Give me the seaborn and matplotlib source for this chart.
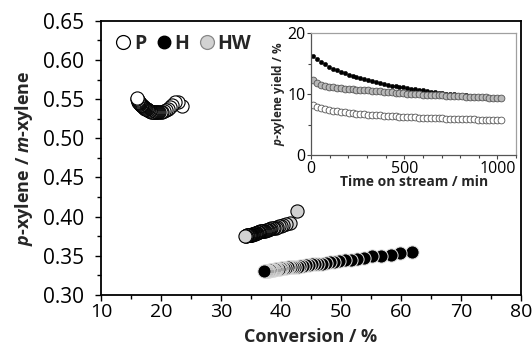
import matplotlib
matplotlib.use("Agg")
import matplotlib.pyplot as plt
from matplotlib.lines import Line2D
from matplotlib.ticker import MultipleLocator, FormatStrFormatter
import pandas as pd
import seaborn as sns

# ---- series: main panel (conversion vs p/m ratio) ----
conv_P = [23.5, 22.9, 22.4, 21.9, 21.5, 21.1, 20.8, 20.5, 20.2, 19.95,
          19.7, 19.5, 19.3, 19.1, 18.95, 18.8, 18.65, 18.5, 18.35, 18.2,
          18.1, 18.0, 17.9, 17.8, 17.7, 17.6, 17.5, 17.4, 17.3, 17.2,
          17.12, 17.04, 16.96, 16.88, 16.8, 16.73, 16.66, 16.6, 16.54, 16.48,
          16.42, 16.36, 16.3, 16.25, 16.2, 16.15, 16.1, 16.05, 16.0]
ratio_P = [0.541, 0.547, 0.546, 0.543, 0.540, 0.538, 0.536, 0.535, 0.534, 0.533,
           0.533, 0.533, 0.533, 0.533, 0.533, 0.533, 0.534, 0.534, 0.534, 0.535,
           0.535, 0.535, 0.536, 0.536, 0.537, 0.537, 0.538, 0.538, 0.539, 0.539,
           0.540, 0.540, 0.541, 0.541, 0.542, 0.542, 0.543, 0.543, 0.544, 0.544,
           0.545, 0.545, 0.546, 0.547, 0.547, 0.548, 0.549, 0.550, 0.551]

conv_H = [61.8, 59.9, 58.3, 56.7, 55.2, 53.9, 52.7, 51.6, 50.6, 49.7,
          48.9, 48.2, 47.5, 46.8, 46.2, 45.6, 45.1, 44.6, 44.1, 43.6,
          43.2, 42.8, 42.4, 42.0, 41.7, 41.4, 41.1, 40.8, 40.5, 40.25,
          40.0, 39.8, 39.6, 39.4, 39.2, 39.0, 38.85, 38.7, 38.55, 38.4,
          38.25, 38.1, 37.95, 37.8, 37.7, 37.6, 37.5, 37.35, 37.2]
ratio_H = [0.355, 0.353, 0.351, 0.350, 0.349, 0.347, 0.346, 0.345, 0.344, 0.343,
           0.342, 0.342, 0.341, 0.340, 0.340, 0.339, 0.339, 0.338, 0.338, 0.337,
           0.337, 0.336, 0.336, 0.336, 0.335, 0.335, 0.335, 0.334, 0.334, 0.334,
           0.334, 0.333, 0.333, 0.333, 0.333, 0.333, 0.332, 0.332, 0.332, 0.332,
           0.332, 0.332, 0.331, 0.331, 0.331, 0.331, 0.331, 0.331, 0.331]

conv_HW = [42.6, 41.5, 40.9, 40.4, 40.0, 39.7, 39.4, 39.1, 38.85, 38.6,
           38.4, 38.2, 38.0, 37.8, 37.6, 37.45, 37.3, 37.15, 37.0, 36.85,
           36.7, 36.55, 36.4, 36.3, 36.2, 36.1, 36.0, 35.9, 35.8, 35.7,
           35.6, 35.5, 35.4, 35.3, 35.2, 35.1, 35.0, 34.95, 34.9, 34.85,
           34.8, 34.7, 34.6, 34.5, 34.4, 34.3, 34.2, 34.1, 34.0]
ratio_HW = [0.407, 0.392, 0.390, 0.389, 0.388, 0.388, 0.387, 0.386, 0.386, 0.385,
            0.385, 0.384, 0.384, 0.383, 0.383, 0.383, 0.382, 0.382, 0.382, 0.381,
            0.381, 0.381, 0.380, 0.380, 0.380, 0.380, 0.379, 0.379, 0.379, 0.379,
            0.378, 0.378, 0.378, 0.378, 0.378, 0.377, 0.377, 0.377, 0.377, 0.377,
            0.377, 0.376, 0.376, 0.376, 0.376, 0.376, 0.375, 0.375, 0.375]

# ---- series: inset (p-xylene yield vs time on stream) ----
time_min = [12, 33, 54, 75, 96, 117, 138, 159, 180, 201,
            222, 243, 264, 285, 306, 327, 348, 369, 390, 411,
            432, 453, 474, 495, 516, 537, 558, 579, 600, 621,
            642, 663, 684, 705, 726, 747, 768, 789, 810, 831,
            852, 873, 894, 915, 936, 957, 978, 999, 1020]
yield_P = [8.2, 7.9, 7.7, 7.55, 7.4, 7.3, 7.2, 7.1, 7.02, 6.95,
           6.88, 6.82, 6.76, 6.7, 6.65, 6.6, 6.55, 6.5, 6.46, 6.42,
           6.38, 6.34, 6.3, 6.27, 6.24, 6.21, 6.18, 6.15, 6.12, 6.1,
           6.08, 6.06, 6.04, 6.02, 6.0, 5.98, 5.96, 5.94, 5.92, 5.9,
           5.88, 5.86, 5.84, 5.82, 5.8, 5.78, 5.76, 5.74, 5.72]
yield_H = [16.3, 15.8, 15.3, 14.9, 14.5, 14.2, 13.9, 13.6, 13.4, 13.2,
           13.0, 12.8, 12.6, 12.4, 12.25, 12.1, 11.95, 11.8, 11.65, 11.5,
           11.4, 11.3, 11.2, 11.1, 11.0, 10.9, 10.8, 10.7, 10.6, 10.5,
           10.42, 10.34, 10.26, 10.18, 10.1, 10.03, 9.96, 9.9, 9.84, 9.78,
           9.72, 9.66, 9.6, 9.55, 9.5, 9.45, 9.4, 9.35, 9.3]
yield_HW = [12.3, 11.8, 11.55, 11.4, 11.25, 11.15, 11.05, 10.95, 10.9, 10.85,
            10.8, 10.75, 10.7, 10.65, 10.6, 10.55, 10.5, 10.45, 10.4, 10.35,
            10.3, 10.25, 10.2, 10.15, 10.1, 10.05, 10.0, 9.97, 9.94, 9.91,
            9.88, 9.85, 9.82, 9.79, 9.76, 9.73, 9.7, 9.67, 9.64, 9.61,
            9.58, 9.55, 9.52, 9.49, 9.46, 9.43, 9.4, 9.37, 9.34]

samples = ["P", "H", "HW"]

main_df = pd.concat([
    pd.DataFrame({"conversion": conv_P, "ratio": ratio_P, "sample": "P"}),
    pd.DataFrame({"conversion": conv_H, "ratio": ratio_H, "sample": "H"}),
    pd.DataFrame({"conversion": conv_HW, "ratio": ratio_HW, "sample": "HW"}),
], ignore_index=True)
inset_df = pd.concat([
    pd.DataFrame({"time": time_min, "yield": yield_P, "sample": "P"}),
    pd.DataFrame({"time": time_min, "yield": yield_H, "sample": "H"}),
    pd.DataFrame({"time": time_min, "yield": yield_HW, "sample": "HW"}),
], ignore_index=True)

# ---- styling ----
sns.set_style("ticks")
plt.rcParams["font.family"] = ["Open Sans", "DejaVu Sans"]
plt.rcParams["mathtext.fontset"] = "custom"
plt.rcParams["mathtext.it"] = "Open Sans:italic:bold"
plt.rcParams["mathtext.rm"] = "Open Sans:bold"

main_style = {
    "P": dict(color="white", edgecolor="black", linewidth=0.8),
    "H": dict(color="black", edgecolor="#e0e0e0", linewidth=0.7),
    "HW": dict(color="#d2d2d2", edgecolor="black", linewidth=0.8),
}
inset_style = {
    "P": dict(color="white", edgecolor="#555555", linewidth=0.6, s=24),
    "H": dict(color="black", edgecolor="black", linewidth=0.3, s=10),
    "HW": dict(color="#b8b8b8", edgecolor="#555555", linewidth=0.6, s=24),
}

fig = plt.figure(figsize=(5.32, 3.60), dpi=100)
ax = fig.add_axes([0.190, 0.181, 0.789, 0.761])

for name in samples:
    sub = main_df[main_df["sample"] == name]
    sns.scatterplot(data=sub, x="conversion", y="ratio", ax=ax, s=90,
                    legend=False, **main_style[name])

ax.set_xlim(10, 80)
ax.set_ylim(0.30, 0.65)
ax.xaxis.set_major_locator(MultipleLocator(10))
ax.xaxis.set_minor_locator(MultipleLocator(5))
ax.yaxis.set_major_locator(MultipleLocator(0.05))
ax.yaxis.set_minor_locator(MultipleLocator(0.025))
ax.yaxis.set_major_formatter(FormatStrFormatter("%.2f"))
ax.tick_params(which="both", direction="out", width=1.0, colors="black")
ax.tick_params(axis="x", pad=2, labelsize=14)
ax.tick_params(axis="y", pad=8, labelsize=15)
ax.tick_params(which="major", length=4)
ax.tick_params(which="minor", length=3)
for sp in ax.spines.values():
    sp.set_visible(True)
    sp.set_color("black")
    sp.set_linewidth(1.3)
ax.set_xlabel("Conversion / %", fontsize=13, fontweight="bold", labelpad=5)
ax.set_ylabel(r"$\mathit{p}$-xylene / $\mathit{m}$-xylene", fontsize=13,
              fontweight="bold", labelpad=6)

handles = [
    Line2D([], [], ls="none", marker="o", markersize=10, markerfacecolor="white",
           markeredgecolor="black", markeredgewidth=0.9),
    Line2D([], [], ls="none", marker="o", markersize=9, markerfacecolor="black",
           markeredgecolor="black"),
    Line2D([], [], ls="none", marker="o", markersize=10, markerfacecolor="#d2d2d2",
           markeredgecolor="#888888", markeredgewidth=0.9),
]
leg = ax.legend(handles, samples, loc="upper left", bbox_to_anchor=(0.0, 1.0),
                ncol=3, frameon=False, handletextpad=0.05, columnspacing=0.4,
                handlelength=1.0, borderaxespad=0.25,
                prop={"family": "Open Sans", "weight": "bold", "size": 14})

# ---- inset ----
axin = fig.add_axes([0.585, 0.569, 0.385, 0.339])
for name in samples:
    sub = inset_df[inset_df["sample"] == name]
    sns.scatterplot(data=sub, x="time", y="yield", ax=axin,
                    legend=False, **inset_style[name])
axin.set_xlim(0, 1100)
axin.set_ylim(0, 20)
axin.xaxis.set_major_locator(MultipleLocator(500))
axin.xaxis.set_minor_locator(MultipleLocator(100))
axin.yaxis.set_major_locator(MultipleLocator(10))
axin.yaxis.set_minor_locator(MultipleLocator(5))
axin.tick_params(which="both", direction="out", width=0.8, colors="#444444",
                 labelcolor="black", labelsize=11.5, pad=1)
axin.tick_params(which="major", length=3)
axin.tick_params(which="minor", length=2.5)
for side in ["left", "bottom"]:
    axin.spines[side].set_color("#555555")
    axin.spines[side].set_linewidth(0.9)
for side in ["top", "right"]:
    axin.spines[side].set_visible(True)
    axin.spines[side].set_color("#a0a0a0")
    axin.spines[side].set_linewidth(0.9)
axin.set_xlabel("Time on stream / min", fontsize=10, fontweight="bold", labelpad=-1)
axin.set_ylabel(r"$\mathit{p}$-xylene yield / %", fontsize=8.5,
                fontweight="bold", labelpad=0)

fig.savefig("out.png", dpi=100)
